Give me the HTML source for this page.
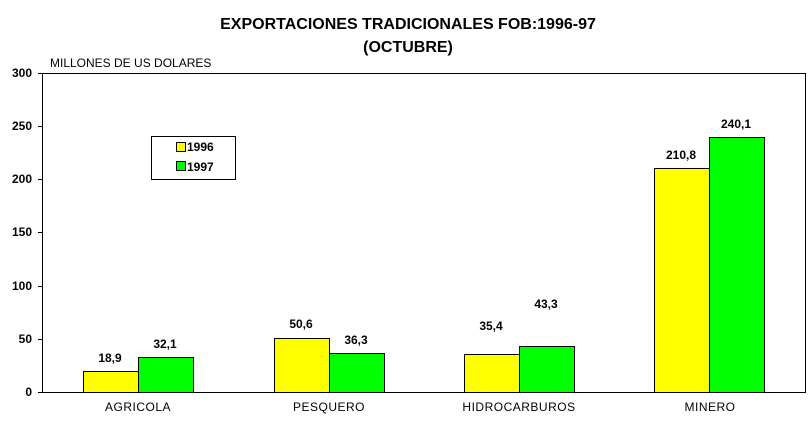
<!DOCTYPE html>
<html><head><meta charset="utf-8"><style>body{margin:0;background:#fff}svg{display:block}text{font-family:"Liberation Sans",Arial,sans-serif}</style></head><body>
<svg width="812" height="422" viewBox="0 0 812 422" xmlns="http://www.w3.org/2000/svg">
<rect width="812" height="422" fill="#fff"/>
<text x="408" y="29" font-size="16" font-weight="bold" text-anchor="middle">EXPORTACIONES TRADICIONALES FOB:1996-97</text>
<text x="408" y="52" font-size="16" font-weight="bold" text-anchor="middle">(OCTUBRE)</text>
<text x="50" y="67" font-size="12">MILLONES DE US DOLARES</text>
<g stroke="#000" stroke-width="1" fill="none">
<path d="M42.5 73.5H805.5V392.5H42.5Z"/>
<path d="M38 73.5H42M38 126.5H42M38 179.5H42M38 232.5H42M38 286.5H42M38 339.5H42M38 392.5H42"/>
</g>
<g font-size="12" font-weight="bold" text-anchor="end">
<text x="32" y="77">300</text><text x="32" y="130">250</text><text x="32" y="183">200</text>
<text x="32" y="236">150</text><text x="32" y="290">100</text><text x="32" y="343">50</text><text x="32" y="396">0</text>
</g>
<g stroke="#000" stroke-width="1">
<rect x="83.5" y="371.5" width="55" height="21" fill="#ffff00"/>
<rect x="138.5" y="357.5" width="55" height="35" fill="#00ff00"/>
<rect x="274.5" y="338.5" width="55" height="54" fill="#ffff00"/>
<rect x="329.5" y="353.5" width="55" height="39" fill="#00ff00"/>
<rect x="464.5" y="354.5" width="55" height="38" fill="#ffff00"/>
<rect x="519.5" y="346.5" width="55" height="46" fill="#00ff00"/>
<rect x="654.5" y="168.5" width="55" height="224" fill="#ffff00"/>
<rect x="709.5" y="137.5" width="55" height="255" fill="#00ff00"/>
<rect x="151.5" y="136.5" width="84" height="43" fill="#fff"/>
<rect x="176.5" y="142.5" width="9" height="9" fill="#ffff00"/>
<rect x="176.5" y="161.5" width="9" height="9" fill="#00ff00"/>
</g>
<g font-size="12" font-weight="bold">
<text x="187" y="151">1996</text><text x="187" y="171">1997</text>
</g>
<g font-size="12" font-weight="bold" text-anchor="middle">
<text x="110" y="362">18,9</text><text x="165" y="348">32,1</text>
<text x="301" y="328">50,6</text><text x="356" y="344">36,3</text>
<text x="491" y="330">35,4</text><text x="546" y="308">43,3</text>
<text x="681" y="159">210,8</text><text x="736" y="128">240,1</text>
</g>
<g font-size="12" text-anchor="middle" letter-spacing="0.5">
<text x="138" y="411">AGRICOLA</text><text x="329" y="411">PESQUERO</text>
<text x="519" y="411">HIDROCARBUROS</text><text x="710" y="411">MINERO</text>
</g>
</svg>
</body></html>
